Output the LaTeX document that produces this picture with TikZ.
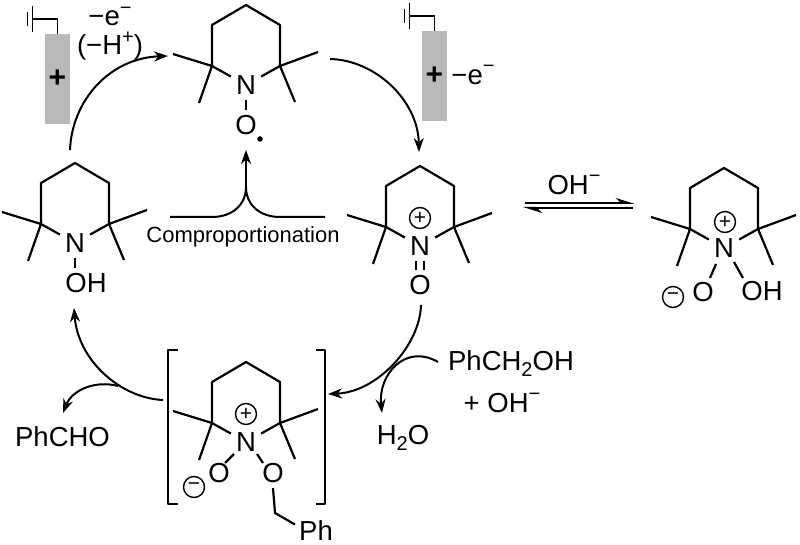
\documentclass[tikz,border=0pt]{standalone}
\usepackage{fontspec}
\setmainfont{Liberation Sans}
\usetikzlibrary{arrows.meta, calc}
\definecolor{electrode}{HTML}{B9B9B9}
\newcommand{\chgup}[1]{\raisebox{0.42em}{\fontsize{20}{20}\selectfont #1}}
\newcommand{\subdown}[1]{\raisebox{-0.22em}{\fontsize{20}{20}\selectfont #1}}
\tikzset{
    atom/.style={font=\fontsize{27.5}{30}\selectfont, inner sep=5pt},
    species/.style={font=\fontsize{27.5}{30}\selectfont, inner sep=0pt},
    bond/.style={line width=2.2pt, line join=round},
    curved arrow/.style={line width=2pt, -{Stealth[length=14pt, width=10pt]}},
    equilibrium/.style={line width=2pt, -{Stealth[harpoon, length=16pt, width=10pt]}},
    charge/.style={draw, circle, line width=1.4pt, minimum size=21pt, inner sep=0pt, font=\fontsize{21}{21}\selectfont},
    ring/.pic={
        \node[atom] (-n) at (0, 0) {N};
        \draw[bond] (-n) -- (-34, -19) -- (-34, -60) -- (0, -80) -- (34, -60) -- (34, -19) -- (-n);
        \draw[bond] (-73, -31) -- (-34, -19) -- (-47, 18);
        \draw[bond] (72, -33) -- (34, -19) -- (49, 17);
    },
    electrode box/.pic={
        \node[fill=electrode, minimum width=25pt, minimum height=90pt, inner sep=0pt, font=\fontsize{30}{30}\selectfont\bfseries] (-plate) at (0, 0) {+};
        \coordinate (-corner) at (0, -60);
        \coordinate (-earth) at (-25, -60);
        \draw[line width=1.6pt] (-plate.north) -- (-corner) -- (-earth);
        \draw[line width=1.6pt] (-25, -73) -- (-25, -47);
        \draw[line width=1.6pt] (-30, -67) -- (-30, -53);
    },
}
\begin{document}
\begin{tikzpicture}[x=1pt, y=-1pt]
\useasboundingbox (0, 0) rectangle (800, 545);

% Electrodes
\pic (elecl) at (57.5, 79) {electrode box};
\pic (elecr) at (434.5, 76) {electrode box};
\node[species] (lossl) at (110, 16.5) {−e\chgup{−}};
\node[species] (lossh) at (110, 46) {(−H\chgup{+})};
\node[species] (lossr) at (473, 75) {−e\chgup{−}};

% Nitroxyl radical
\pic (tempo) at (246, 85) {ring};
\node[atom] (tempoo) at (246, 125) {O};
\node[fill, circle, inner sep=0pt, minimum size=5.5pt] (tempodot) at (260, 139) {};
\draw[bond] (tempo-n) -- (tempoo);

% Hydroxylamine
\pic (hyd) at (75, 243) {ring};
\node[atom] (hydoh) at (86, 283) {OH};
\draw[bond] (hyd-n) -- (hyd-n |- hydoh.north);

% Oxoammonium
\pic (oxo) at (420, 246) {ring};
\node[charge] (oxoplus) at (420, 218) {+};
\node[atom] (oxoo) at (420, 285) {O};
\draw[bond, double distance=5.6pt] (oxo-n) -- (oxoo);

% Hydroxide adduct
\pic (adduct) at (724, 248) {ring};
\node[charge] (adductplus) at (725, 222) {+};
\node[atom] (adducto) at (703, 292) {O};
\node[species] (adductoh) at (762, 291) {OH};
\node[charge] (adductminus) at (673, 297) {−};
\draw[bond] ($(adduct-n)+(-8, 16)$) -- ($(adducto)+(7, -14)$);
\draw[bond] ($(adduct-n)+(10, 14)$) -- ($(adductoh)+(-19, -13)$);

% Bracketed intermediate
\pic (inter) at (246, 442) {ring};
\node[charge] (interplus) at (246, 414) {+};
\node[atom] (interol) at (219, 473) {O};
\node[atom] (interor) at (273, 473) {O};
\node[charge] (interminus) at (194, 487) {−};
\node[species] (interph) at (316, 530.5) {Ph};
\coordinate (interch) at (275, 513);
\draw[bond] ($(inter-n)+(-12, 12)$) -- ($(interol)+(6, -10)$);
\draw[bond] ($(inter-n)+(11, 12)$) -- ($(interor)+(-10, -10)$);
\draw[bond] ($(interor)+(0, 15)$) -- (interch) -- ($(interph)+(-21, -6)$);
\draw[bond] (178, 350) -- (168, 350) -- (168, 504) -- (178, 504);
\draw[bond] (316, 350) -- (325, 350) -- (325, 504) -- (316, 504);

% Cycle arrows
\coordinate (cyclea) at (70, 150);
\coordinate (cycleb) at (168, 56);
\coordinate (cyclec) at (330, 59);
\coordinate (cycled) at (419, 152);
\coordinate (cyclee) at (421, 305);
\coordinate (cyclef) at (328, 394);
\coordinate (cycleg) at (163, 400);
\coordinate (cycleh) at (74, 308);
\draw[curved arrow] (cyclea) .. controls (72, 100) and (110, 58) .. (cycleb);
\draw[curved arrow] (cyclec) .. controls (375, 60) and (418, 100) .. (cycled);
\draw[curved arrow] (cyclee) .. controls (420, 345) and (378, 392) .. (cyclef);
\draw[curved arrow] (cycleg) .. controls (120, 398) and (78, 360) .. (cycleh);

% Side products
\node[species] (phcho) at (62.5, 437) {PhCHO};
\node[species] (water) at (403, 438) {H\subdown{2}O};
\node[species] (alcohol) at (511, 364) {PhCH\subdown{2}OH};
\node[species] (base) at (502, 403) {+ OH\chgup{−}};
\coordinate (branchl) at (118, 386);
\coordinate (branchr) at (438, 362);
\coordinate (branchlend) at (63, 413);
\coordinate (branchrend) at (382, 413);
\draw[curved arrow] (branchl) .. controls (95, 380) and (72, 390) .. (branchlend);
\draw[curved arrow] (branchr) .. controls (405, 343) and (378, 375) .. (branchrend);

% Comproportionation
\node[species, font=\fontsize{22}{26}\selectfont] (compro) at (243, 237) {Comproportionation};
\coordinate (joinl) at (170, 217);
\coordinate (joinr) at (325, 217);
\coordinate (joint) at (246, 187);
\coordinate (jointip) at (246, 150);
\draw[line width=2pt] (joinl) -- (212, 217) .. controls (232, 217) and (246, 205) .. (joint);
\draw[line width=2pt] (joinr) -- (280, 217) .. controls (260, 217) and (246, 205) .. (joint);
\draw[curved arrow] (joint) -- (jointip);

% Equilibrium
\node[species] (eqoh) at (574, 185) {OH\chgup{−}};
\coordinate (eqa) at (525, 203);
\coordinate (eqb) at (635, 203);
\coordinate (eqc) at (633, 208);
\coordinate (eqd) at (523, 208);
\draw[equilibrium] (eqa) -- (eqb);
\draw[equilibrium] (eqc) -- (eqd);

\end{tikzpicture}
\end{document}
